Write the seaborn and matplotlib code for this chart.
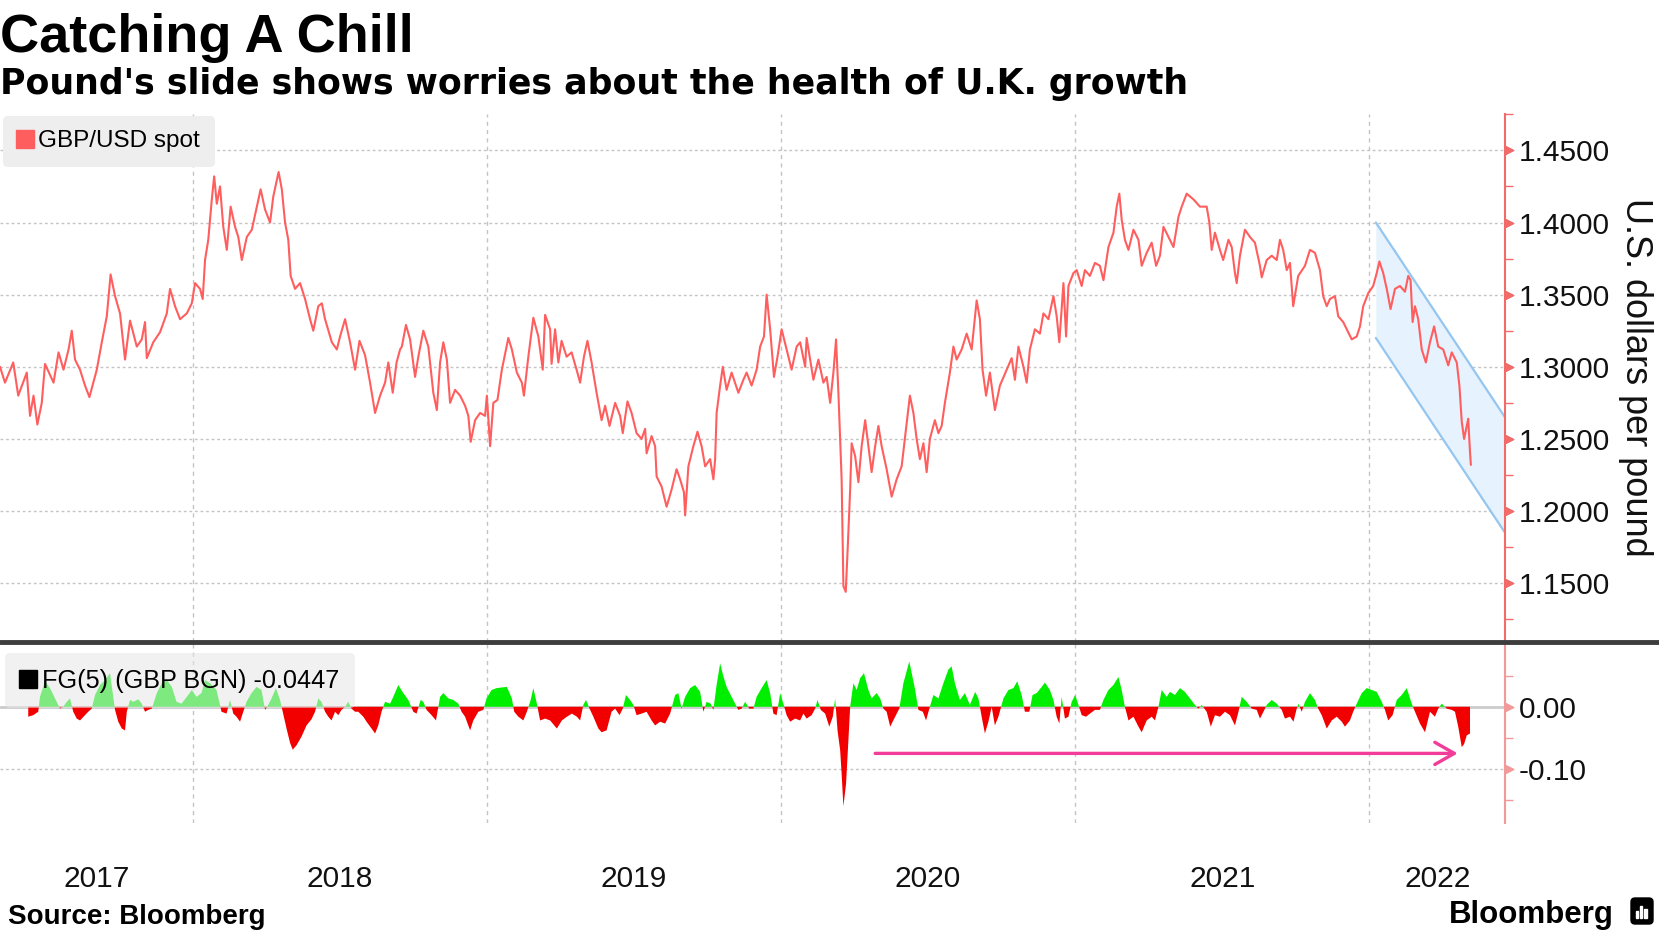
import numpy as np
import pandas as pd
import matplotlib
matplotlib.use("Agg")
import matplotlib.pyplot as plt
import matplotlib.transforms as mtransforms
from matplotlib.lines import Line2D
from matplotlib.patches import FancyBboxPatch, Rectangle
import seaborn as sns

# =====================================================================
# Data (x as decimal years)
# =====================================================================
gbp_year = [
    2017.345, 2017.362, 2017.390, 2017.407, 2017.436, 2017.447, 2017.459, 2017.472, 2017.487, 2017.498,
    2017.527, 2017.544, 2017.561, 2017.578, 2017.589, 2017.600, 2017.617, 2017.634, 2017.649, 2017.674,
    2017.691, 2017.708, 2017.721, 2017.736, 2017.753, 2017.770, 2017.787, 2017.810, 2017.827, 2017.838,
    2017.844, 2017.866, 2017.889, 2017.912, 2017.923, 2017.940, 2017.957, 2017.980, 2017.997, 2018.008,
    2018.025, 2018.034, 2018.042, 2018.053, 2018.065, 2018.073, 2018.082, 2018.093, 2018.104, 2018.116,
    2018.129, 2018.144, 2018.155, 2018.167, 2018.184, 2018.201, 2018.218, 2018.231, 2018.246, 2018.263,
    2018.274, 2018.292, 2018.303, 2018.314, 2018.325, 2018.333, 2018.348, 2018.365, 2018.382, 2018.399,
    2018.410, 2018.427, 2018.439, 2018.450, 2018.473, 2018.490, 2018.501, 2018.518, 2018.535, 2018.552,
    2018.567, 2018.586, 2018.603, 2018.620, 2018.637, 2018.654, 2018.665, 2018.680, 2018.693, 2018.705,
    2018.711, 2018.725, 2018.739, 2018.756, 2018.767, 2018.784, 2018.801, 2018.818, 2018.830, 2018.841,
    2018.852, 2018.864, 2018.875, 2018.892, 2018.909, 2018.926, 2018.937, 2018.945, 2018.960, 2018.977,
    2018.994, 2019.000, 2019.011, 2019.022, 2019.036, 2019.051, 2019.073, 2019.085, 2019.102, 2019.119,
    2019.126, 2019.141, 2019.158, 2019.175, 2019.190, 2019.198, 2019.215, 2019.220, 2019.232, 2019.243,
    2019.254, 2019.271, 2019.288, 2019.305, 2019.317, 2019.330, 2019.342, 2019.356, 2019.373, 2019.390,
    2019.402, 2019.417, 2019.436, 2019.453, 2019.462, 2019.478, 2019.492, 2019.509, 2019.526, 2019.538,
    2019.543, 2019.560, 2019.572, 2019.577, 2019.594, 2019.611, 2019.628, 2019.645, 2019.657, 2019.670,
    2019.674, 2019.685, 2019.702, 2019.716, 2019.730, 2019.742, 2019.759, 2019.770, 2019.776, 2019.781,
    2019.793, 2019.802, 2019.815, 2019.832, 2019.855, 2019.872, 2019.883, 2019.900, 2019.917, 2019.929,
    2019.942, 2019.951, 2019.963, 2019.976, 2019.988, 2020.002, 2020.019, 2020.036, 2020.053, 2020.065,
    2020.082, 2020.087, 2020.110, 2020.127, 2020.144, 2020.155, 2020.167, 2020.178, 2020.187, 2020.195,
    2020.201, 2020.206, 2020.212, 2020.220, 2020.227, 2020.235, 2020.240, 2020.252, 2020.263, 2020.274,
    2020.286, 2020.297, 2020.308, 2020.320, 2020.331, 2020.342, 2020.359, 2020.376, 2020.393, 2020.410,
    2020.427, 2020.438, 2020.450, 2020.461, 2020.472, 2020.484, 2020.495, 2020.506, 2020.523, 2020.535,
    2020.546, 2020.557, 2020.574, 2020.586, 2020.597, 2020.614, 2020.631, 2020.648, 2020.665, 2020.676,
    2020.685, 2020.697, 2020.710, 2020.727, 2020.744, 2020.767, 2020.784, 2020.795, 2020.807, 2020.824,
    2020.835, 2020.846, 2020.863, 2020.880, 2020.892, 2020.909, 2020.926, 2020.937, 2020.946, 2020.960,
    2020.969, 2020.977, 2020.994, 2021.005, 2021.022, 2021.033, 2021.050, 2021.067, 2021.084, 2021.096,
    2021.113, 2021.130, 2021.141, 2021.150, 2021.158, 2021.169, 2021.181, 2021.198, 2021.215, 2021.226,
    2021.243, 2021.260, 2021.275, 2021.288, 2021.300, 2021.317, 2021.334, 2021.351, 2021.362, 2021.379,
    2021.402, 2021.424, 2021.447, 2021.456, 2021.464, 2021.475, 2021.492, 2021.503, 2021.521, 2021.532,
    2021.543, 2021.549, 2021.560, 2021.577, 2021.594, 2021.611, 2021.628, 2021.634, 2021.651, 2021.668,
    2021.685, 2021.696, 2021.707, 2021.719, 2021.730, 2021.741, 2021.758, 2021.781, 2021.798, 2021.815,
    2021.832, 2021.843, 2021.855, 2021.866, 2021.883, 2021.894, 2021.911, 2021.928, 2021.940, 2021.957,
    2021.968, 2021.979, 2021.996, 2022.013, 2022.025, 2022.034, 2022.047, 2022.059, 2022.072, 2022.087,
    2022.104, 2022.121, 2022.132, 2022.140, 2022.147, 2022.155, 2022.166, 2022.178, 2022.192, 2022.206,
    2022.220, 2022.234, 2022.251, 2022.268, 2022.280, 2022.297, 2022.306, 2022.314, 2022.322, 2022.331,
    2022.336, 2022.342, 2022.345,
]
gbp_spot = [
    1.300, 1.289, 1.303, 1.280, 1.296, 1.266, 1.280, 1.260, 1.275, 1.302,
    1.289, 1.310, 1.298, 1.312, 1.325, 1.305, 1.298, 1.287, 1.279, 1.298,
    1.317, 1.335, 1.364, 1.349, 1.337, 1.305, 1.332, 1.314, 1.319, 1.331,
    1.306, 1.317, 1.324, 1.337, 1.354, 1.342, 1.333, 1.337, 1.344, 1.358,
    1.354, 1.347, 1.374, 1.388, 1.416, 1.432, 1.413, 1.425, 1.397, 1.381,
    1.411, 1.397, 1.390, 1.374, 1.390, 1.395, 1.411, 1.423, 1.409, 1.400,
    1.418, 1.435, 1.423, 1.400, 1.388, 1.363, 1.354, 1.358, 1.347, 1.333,
    1.325, 1.342, 1.344, 1.333, 1.317, 1.312, 1.321, 1.333, 1.317, 1.298,
    1.318, 1.308, 1.289, 1.268, 1.280, 1.289, 1.303, 1.282, 1.303, 1.312,
    1.314, 1.329, 1.319, 1.293, 1.307, 1.325, 1.314, 1.282, 1.270, 1.303,
    1.317, 1.305, 1.275, 1.284, 1.280, 1.273, 1.266, 1.248, 1.263, 1.268,
    1.266, 1.280, 1.245, 1.275, 1.277, 1.298, 1.320, 1.312, 1.296, 1.289,
    1.280, 1.307, 1.334, 1.321, 1.298, 1.336, 1.326, 1.302, 1.326, 1.303,
    1.318, 1.307, 1.310, 1.298, 1.289, 1.307, 1.318, 1.303, 1.282, 1.263,
    1.273, 1.259, 1.275, 1.266, 1.254, 1.276, 1.268, 1.254, 1.250, 1.257,
    1.240, 1.252, 1.245, 1.224, 1.217, 1.203, 1.215, 1.229, 1.222, 1.213,
    1.197, 1.231, 1.245, 1.255, 1.245, 1.231, 1.236, 1.222, 1.236, 1.268,
    1.287, 1.300, 1.284, 1.296, 1.282, 1.291, 1.296, 1.287, 1.298, 1.314,
    1.321, 1.350, 1.326, 1.293, 1.307, 1.326, 1.312, 1.298, 1.314, 1.317,
    1.300, 1.320, 1.291, 1.305, 1.289, 1.293, 1.275, 1.296, 1.319, 1.282,
    1.250, 1.222, 1.148, 1.144, 1.176, 1.215, 1.247, 1.238, 1.220, 1.245,
    1.263, 1.245, 1.227, 1.245, 1.259, 1.245, 1.229, 1.210, 1.222, 1.231,
    1.261, 1.280, 1.268, 1.250, 1.236, 1.247, 1.227, 1.250, 1.263, 1.254,
    1.259, 1.275, 1.296, 1.314, 1.305, 1.312, 1.323, 1.312, 1.346, 1.333,
    1.298, 1.280, 1.296, 1.270, 1.287, 1.298, 1.306, 1.291, 1.314, 1.300,
    1.289, 1.312, 1.326, 1.323, 1.337, 1.333, 1.349, 1.335, 1.317, 1.358,
    1.321, 1.356, 1.365, 1.367, 1.356, 1.367, 1.363, 1.372, 1.370, 1.360,
    1.383, 1.393, 1.411, 1.420, 1.402, 1.388, 1.381, 1.395, 1.388, 1.370,
    1.379, 1.386, 1.370, 1.377, 1.397, 1.390, 1.383, 1.404, 1.411, 1.420,
    1.416, 1.411, 1.411, 1.400, 1.381, 1.393, 1.381, 1.374, 1.388, 1.383,
    1.365, 1.358, 1.377, 1.395, 1.390, 1.386, 1.370, 1.362, 1.374, 1.377,
    1.374, 1.388, 1.381, 1.367, 1.372, 1.342, 1.363, 1.370, 1.381, 1.379,
    1.367, 1.349, 1.342, 1.347, 1.349, 1.335, 1.331, 1.324, 1.319, 1.321,
    1.328, 1.342, 1.351, 1.356, 1.365, 1.373, 1.365, 1.354, 1.340, 1.354,
    1.356, 1.352, 1.363, 1.360, 1.331, 1.342, 1.333, 1.312, 1.303, 1.317,
    1.328, 1.314, 1.312, 1.301, 1.310, 1.303, 1.287, 1.262, 1.250, 1.259,
    1.264, 1.241, 1.232,
]

fg_year = [
    2017.441, 2017.458, 2017.475, 2017.481, 2017.498, 2017.515, 2017.532, 2017.549, 2017.560, 2017.572,
    2017.583, 2017.594, 2017.606, 2017.617, 2017.634, 2017.645, 2017.657, 2017.668, 2017.685, 2017.702,
    2017.719, 2017.736, 2017.747, 2017.759, 2017.770, 2017.776, 2017.787, 2017.798, 2017.815, 2017.827,
    2017.838, 2017.849, 2017.861, 2017.878, 2017.895, 2017.912, 2017.929, 2017.945, 2017.962, 2017.980,
    2017.997, 2018.013, 2018.030, 2018.042, 2018.059, 2018.081, 2018.098, 2018.115, 2018.127, 2018.138,
    2018.149, 2018.161, 2018.172, 2018.183, 2018.200, 2018.217, 2018.234, 2018.246, 2018.257, 2018.268,
    2018.283, 2018.297, 2018.308, 2018.319, 2018.331, 2018.340, 2018.353, 2018.370, 2018.387, 2018.404,
    2018.416, 2018.427, 2018.438, 2018.450, 2018.461, 2018.472, 2018.484, 2018.495, 2018.506, 2018.518,
    2018.529, 2018.540, 2018.552, 2018.563, 2018.580, 2018.591, 2018.608, 2018.620, 2018.631, 2018.642,
    2018.654, 2018.671, 2018.682, 2018.699, 2018.716, 2018.733, 2018.750, 2018.761, 2018.775, 2018.784,
    2018.795, 2018.812, 2018.827, 2018.841, 2018.852, 2018.869, 2018.886, 2018.903, 2018.914, 2018.926,
    2018.943, 2018.954, 2018.971, 2018.988, 2018.999, 2019.016, 2019.033, 2019.068, 2019.085, 2019.093,
    2019.107, 2019.124, 2019.136, 2019.149, 2019.158, 2019.170, 2019.181, 2019.198, 2019.215, 2019.238,
    2019.255, 2019.272, 2019.289, 2019.306, 2019.317, 2019.328, 2019.337, 2019.349, 2019.362, 2019.379,
    2019.390, 2019.407, 2019.424, 2019.436, 2019.451, 2019.462, 2019.473, 2019.487, 2019.498, 2019.509,
    2019.526, 2019.543, 2019.560, 2019.572, 2019.589, 2019.606, 2019.623, 2019.640, 2019.651, 2019.662,
    2019.674, 2019.691, 2019.708, 2019.725, 2019.736, 2019.747, 2019.761, 2019.770, 2019.781, 2019.793,
    2019.804, 2019.815, 2019.832, 2019.844, 2019.855, 2019.866, 2019.878, 2019.892, 2019.906, 2019.917,
    2019.934, 2019.951, 2019.963, 2019.974, 2019.985, 2019.997, 2020.008, 2020.019, 2020.031, 2020.048,
    2020.065, 2020.076, 2020.087, 2020.104, 2020.116, 2020.124, 2020.135, 2020.150, 2020.164, 2020.176,
    2020.184, 2020.192, 2020.201, 2020.206, 2020.212, 2020.221, 2020.229, 2020.235, 2020.246, 2020.257,
    2020.269, 2020.282, 2020.297, 2020.308, 2020.325, 2020.337, 2020.348, 2020.359, 2020.371, 2020.388,
    2020.402, 2020.416, 2020.436, 2020.456, 2020.467, 2020.482, 2020.493, 2020.506, 2020.518, 2020.535,
    2020.552, 2020.569, 2020.580, 2020.591, 2020.608, 2020.625, 2020.642, 2020.660, 2020.671, 2020.682,
    2020.693, 2020.705, 2020.716, 2020.727, 2020.739, 2020.756, 2020.773, 2020.790, 2020.803, 2020.818,
    2020.829, 2020.844, 2020.855, 2020.869, 2020.886, 2020.897, 2020.914, 2020.926, 2020.937, 2020.946,
    2020.954, 2020.965, 2020.977, 2020.988, 2021.000, 2021.011, 2021.022, 2021.037, 2021.050, 2021.067,
    2021.084, 2021.096, 2021.113, 2021.130, 2021.147, 2021.158, 2021.169, 2021.181, 2021.198, 2021.215,
    2021.226, 2021.243, 2021.260, 2021.271, 2021.283, 2021.294, 2021.311, 2021.322, 2021.339, 2021.356,
    2021.373, 2021.390, 2021.407, 2021.419, 2021.430, 2021.447, 2021.461, 2021.475, 2021.492, 2021.509,
    2021.526, 2021.543, 2021.555, 2021.566, 2021.583, 2021.600, 2021.617, 2021.628, 2021.640, 2021.651,
    2021.668, 2021.685, 2021.702, 2021.713, 2021.730, 2021.742, 2021.753, 2021.759, 2021.770, 2021.781,
    2021.798, 2021.815, 2021.826, 2021.838, 2021.855, 2021.872, 2021.889, 2021.906, 2021.917, 2021.934,
    2021.945, 2021.957, 2021.974, 2021.991, 2022.008, 2022.025, 2022.042, 2022.053, 2022.064, 2022.079,
    2022.093, 2022.110, 2022.127, 2022.144, 2022.155, 2022.172, 2022.189, 2022.206, 2022.223, 2022.234,
    2022.246, 2022.263, 2022.280, 2022.291, 2022.302, 2022.314, 2022.322, 2022.331, 2022.342,
]
fg_value = [
    -0.016, -0.0135, -0.008, 0.016, 0.041, 0.030, 0.0135, -0.003, 0.000, 0.008,
    0.0135, -0.008, -0.019, -0.022, -0.0135, -0.008, -0.003, 0.019, 0.035, 0.043,
    0.054, -0.005, -0.024, -0.035, -0.038, -0.008, 0.011, 0.008, 0.012, 0.005,
    -0.008, -0.005, -0.003, 0.022, 0.038, 0.043, 0.032, 0.008, 0.005, 0.016,
    0.027, 0.016, 0.022, 0.043, 0.038, 0.027, -0.008, -0.011, 0.011, -0.011,
    -0.016, -0.024, -0.008, 0.008, 0.022, 0.032, 0.027, -0.005, 0.003, 0.0135,
    0.030, 0.011, -0.012, -0.035, -0.058, -0.069, -0.062, -0.048, -0.030, -0.020,
    -0.008, 0.0135, 0.008, -0.008, -0.016, -0.022, -0.008, -0.0135, -0.005, 0.000,
    0.008, -0.003, -0.008, -0.008, -0.016, -0.024, -0.035, -0.043, -0.030, -0.008,
    0.008, 0.005, 0.016, 0.035, 0.022, 0.011, -0.008, -0.011, 0.011, 0.008,
    -0.005, -0.0135, -0.022, 0.016, 0.022, 0.0135, 0.011, 0.005, -0.008, -0.016,
    -0.038, -0.022, -0.008, -0.005, 0.0135, 0.027, 0.030, 0.032, 0.0135, -0.008,
    -0.016, -0.022, -0.008, 0.011, 0.030, 0.005, -0.022, -0.019, -0.022, -0.035,
    -0.022, -0.016, -0.011, -0.016, -0.022, 0.003, 0.011, -0.003, -0.016, -0.035,
    -0.041, -0.038, -0.008, -0.003, -0.0135, -0.003, 0.019, 0.011, 0.003, -0.0135,
    -0.011, -0.008, -0.022, -0.030, -0.024, -0.027, -0.011, 0.019, 0.022, -0.003,
    0.016, 0.030, 0.035, 0.024, -0.008, 0.008, 0.005, -0.005, 0.035, 0.070,
    0.049, 0.032, 0.016, 0.005, -0.005, -0.003, 0.008, -0.003, -0.003, 0.016,
    0.030, 0.043, 0.022, -0.011, -0.0135, 0.022, 0.005, -0.0135, -0.024, -0.019,
    -0.022, -0.011, -0.019, -0.0135, -0.003, 0.011, -0.005, -0.011, -0.032, -0.016,
    0.0135, -0.038, -0.070, -0.108, -0.160, -0.124, -0.054, 0.000, 0.038, 0.027,
    0.046, 0.054, 0.027, 0.0135, 0.022, 0.0135, -0.003, -0.008, -0.032, -0.016,
    -0.003, 0.038, 0.073, 0.027, -0.005, -0.008, -0.022, 0.000, 0.019, 0.0135,
    0.038, 0.060, 0.065, 0.038, 0.011, 0.022, 0.003, 0.024, 0.0135, -0.016,
    -0.043, -0.024, 0.000, -0.030, -0.016, 0.0135, 0.027, 0.030, 0.041, 0.019,
    -0.008, -0.008, 0.019, 0.022, 0.032, 0.039, 0.027, 0.011, -0.016, -0.027,
    0.016, -0.019, -0.016, 0.008, 0.019, 0.003, -0.0135, -0.016, -0.011, -0.005,
    -0.005, 0.011, 0.027, 0.035, 0.048, 0.027, 0.000, -0.022, -0.016, -0.032,
    -0.041, -0.022, -0.016, -0.022, 0.000, 0.027, 0.016, 0.024, 0.019, 0.030,
    0.024, 0.0135, 0.003, -0.003, 0.003, -0.008, -0.032, -0.0135, -0.016, -0.008,
    -0.0135, -0.030, -0.008, 0.016, 0.008, -0.003, -0.005, -0.019, -0.008, 0.003,
    0.011, 0.005, -0.005, -0.019, -0.016, -0.024, -0.003, 0.005, -0.008, 0.008,
    0.022, 0.011, -0.003, -0.0135, -0.035, -0.022, -0.016, -0.024, -0.032, -0.022,
    -0.008, 0.005, 0.022, 0.030, 0.027, 0.024, 0.008, -0.005, -0.022, -0.0135,
    0.011, 0.019, 0.030, 0.005, -0.008, -0.027, -0.041, -0.008, -0.016, -0.003,
    0.005, -0.003, -0.005, -0.008, -0.032, -0.065, -0.060, -0.046, -0.043,
]
fg_last = -0.0447

# down-sloping channel drawn over the last months
channel_year = [2022.022, 2022.461]
channel_upper = [1.400, 1.265]
channel_lower = [1.320, 1.185]

# arrow in the lower panel
arrow_year = [2020.32, 2022.30]
arrow_level = -0.075

x_start, x_end = 2017.345, 2022.461
year_labels = [2017, 2018, 2019, 2020, 2021, 2022]
price_ticks = [1.15, 1.20, 1.25, 1.30, 1.35, 1.40, 1.45]
price_minor = [1.125, 1.175, 1.225, 1.275, 1.325, 1.375, 1.425, 1.475]
fg_ticks = [-0.10, 0.00]
fg_minor = [-0.15, -0.05, 0.05]

# =====================================================================
# Style
# =====================================================================
sns.set_style('white')
plt.rcParams['font.family'] = ['Liberation Sans', 'DejaVu Sans']
plt.rcParams['text.color'] = 'black'

LINE = '#ff5e5e'
SPINE = '#f26b6b'
SPINE2 = '#f29a9a'
GRID = '#c4c4c4'

W, H = 1659, 933
fig = plt.figure(figsize=(W / 100, H / 100), dpi=100)


def px_box(left, top, right, bottom):
    return [left / W, 1 - bottom / H, (right - left) / W, (bottom - top) / H]


ax = fig.add_axes(px_box(0, 114.3, 1505, 641.5))
ax2 = fig.add_axes(px_box(0, 642.5, 1505, 823))

tri = [(0, -0.5), (1, 0), (0, 0.5), (0, -0.5)]

# ---------------------------------------------------------------------
# Upper panel: GBP/USD spot
# ---------------------------------------------------------------------
spot = pd.DataFrame({'year': gbp_year, 'spot': gbp_spot})

ax.fill_between(channel_year, channel_lower, channel_upper, color='#e6f2fd', lw=0, zorder=1)
ax.plot(channel_year, channel_upper, color='#94c6f0', lw=1.6, zorder=1.5)
ax.plot(channel_year, channel_lower, color='#94c6f0', lw=1.6, zorder=1.5)

sns.lineplot(data=spot, x='year', y='spot', ax=ax, color=LINE, lw=1.5,
             zorder=3, legend=False, estimator=None, sort=False)

ax.set_xlim(x_start, x_end)
ax.set_ylim(1.1096, 1.4749)
ax.set_xlabel('')
ax.set_ylabel('')
ax.set_xticks(range(2018, 2023))
ax.tick_params(axis='x', length=0, labelbottom=False)
ax.yaxis.tick_right()
ax.set_yticks(price_ticks)
ax.set_yticklabels([f'{v:.4f}' for v in price_ticks])
ax.set_yticks(price_minor, minor=True)
ax.tick_params(axis='y', which='major', length=0, pad=10, labelsize=21.5, labelcolor='#111111')
ax.tick_params(axis='y', which='minor', length=6, width=1, color=SPINE)
ax.grid(axis='y', which='major', color=GRID, ls=(0, (2, 2)), lw=1)
ax.grid(axis='x', color=GRID, ls=(0, (3, 3)), lw=1)
for s in ['left', 'top', 'bottom']:
    ax.spines[s].set_visible(False)
ax.spines['right'].set_color(SPINE)
ax.spines['right'].set_linewidth(1.5)
trans = mtransforms.blended_transform_factory(ax.transAxes, ax.transData)
ax.plot([1] * len(price_ticks), price_ticks, ls='', marker=tri, ms=12,
        color=SPINE, transform=trans, clip_on=False, zorder=6)

h1 = Line2D([], [], ls='', marker='s', ms=13, color=LINE)
leg = ax.legend([h1], ['GBP/USD spot'], loc='upper left', bbox_to_anchor=(0.002, 0.997),
                borderaxespad=0, fontsize=17.5, handlelength=0.6, handletextpad=0.25,
                borderpad=0.6, frameon=True, fancybox=True, framealpha=1,
                facecolor='#eeeeee', edgecolor='none')
leg.set_zorder(10)

fig.text(1636 / W, 1 - 377 / H, 'U.S. dollars per pound', rotation=270,
         ha='center', va='center', fontsize=26, color='#111111')

# ---------------------------------------------------------------------
# Lower panel: FG(5)
# ---------------------------------------------------------------------
fy = np.array(fg_year)
fv = np.array(fg_value)
ax2.axhline(0, color='#cccccc', lw=2, zorder=0.8)
ax2.fill_between(fy, 0, fv, where=fv >= 0, interpolate=True, color='#00ee00', lw=0, zorder=2)
ax2.fill_between(fy, 0, fv, where=fv <= 0, interpolate=True, color='#f20000', lw=0, zorder=2)

ax2.annotate('', xy=(arrow_year[1], arrow_level), xytext=(arrow_year[0], arrow_level),
             arrowprops=dict(arrowstyle='->,head_length=1.4,head_width=0.8',
                             color='#f23c9a', lw=2.4, mutation_scale=10,
                             shrinkA=0, shrinkB=0), zorder=4)

ax2.set_xlim(x_start, x_end)
ax2.set_ylim(-0.187, 0.1034)
ax2.set_xticks(range(2018, 2023))
mids = [(max(y, x_start) + min(y + 1, x_end)) / 2 for y in year_labels]
ax2.set_xticks(mids, minor=True)
ax2.set_xticklabels([str(y) for y in year_labels], minor=True)
ax2.tick_params(axis='x', which='major', length=0, labelbottom=False)
ax2.tick_params(axis='x', which='minor', length=0, pad=30, labelsize=21.5, labelcolor='#111111')
ax2.yaxis.tick_right()
ax2.set_yticks(fg_ticks)
ax2.set_yticklabels([f'{v:.2f}' for v in fg_ticks])
ax2.set_yticks(fg_minor, minor=True)
ax2.tick_params(axis='y', which='major', length=0, pad=10, labelsize=21.5, labelcolor='#111111')
ax2.tick_params(axis='y', which='minor', length=6, width=1, color=SPINE2)
ax2.grid(axis='y', which='major', color=GRID, ls=(0, (2, 2)), lw=1)
ax2.grid(axis='x', which='major', color=GRID, ls=(0, (3, 3)), lw=1)
for s in ['left', 'top', 'bottom']:
    ax2.spines[s].set_visible(False)
ax2.spines['right'].set_color(SPINE2)
ax2.spines['right'].set_linewidth(1.5)
trans2 = mtransforms.blended_transform_factory(ax2.transAxes, ax2.transData)
ax2.plot([1] * len(fg_ticks), fg_ticks, ls='', marker=tri, ms=12,
         color=SPINE2, transform=trans2, clip_on=False, zorder=6)

h2 = Line2D([], [], ls='', marker='s', ms=13, color='black')
leg2 = ax2.legend([h2], [f'FG(5) (GBP BGN) {fg_last:.4f}'], loc='upper left',
                  bbox_to_anchor=(0.0033, 0.942), borderaxespad=0, fontsize=18.2,
                  handlelength=0.6, handletextpad=0.25, borderpad=0.62, frameon=True,
                  fancybox=True, framealpha=0.55, facecolor='#e6e6e6', edgecolor='none')
leg2.set_zorder(10)

# separator between the panels
fig.add_artist(Line2D([0, 1], [1 - 642 / H, 1 - 642 / H], transform=fig.transFigure,
                      color='#3d3d3d', lw=3.5))

# ---------------------------------------------------------------------
# Titles and footer
# ---------------------------------------------------------------------
fig.text(0.0, 1 - 52 / H, 'Catching A Chill', fontsize=39, fontweight='bold', va='baseline')
fig.text(0.0, 1 - 94 / H, "Pound's slide shows worries about the health of U.K. growth",
         fontsize=25, fontweight='bold', va='baseline', family=['DejaVu Sans'])
fig.text(8 / W, 1 - 924 / H, 'Source: Bloomberg', fontsize=20, fontweight='bold', va='baseline')
fig.text(1614 / W, 1 - 923 / H, 'Bloomberg', fontsize=22.5, fontweight='bold',
         ha='right', va='baseline')

# small Bloomberg icon
icon = FancyBboxPatch((16.31, 0.09), 0.22, 0.26, boxstyle='round,pad=0,rounding_size=0.04',
                      transform=fig.dpi_scale_trans, color='black')
fig.add_artist(icon)
for bx, bh in [(16.36, 0.07), (16.40, 0.12), (16.44, 0.09)]:
    fig.add_artist(Rectangle((bx, 0.15), 0.025, bh, transform=fig.dpi_scale_trans, color='white'))

fig.savefig('out.png', dpi=100)
